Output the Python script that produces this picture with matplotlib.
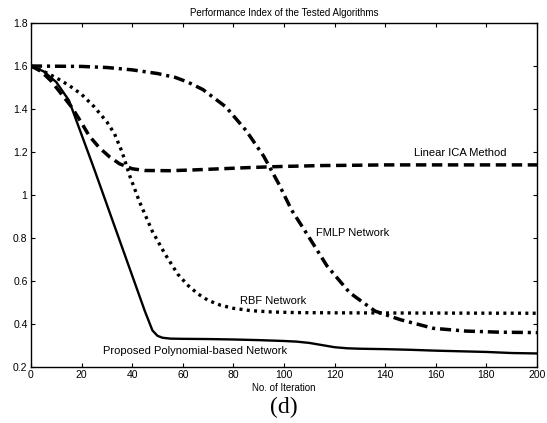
import matplotlib
matplotlib.use("Agg")
import matplotlib.pyplot as plt

# Proposed Polynomial-based Network (solid)
poly_x = [0, 5, 10, 15, 20, 25, 30, 35, 40, 45, 48, 50, 52, 55, 60, 70, 80, 90, 100, 105,
          110, 115, 120, 125, 130, 140, 150, 160, 170, 180, 190, 200]
poly_y = [1.6, 1.575, 1.525, 1.44, 1.28, 1.12, 0.955, 0.79, 0.625, 0.46, 0.37, 0.345, 0.336,
          0.332, 0.331, 0.33, 0.328, 0.325, 0.321, 0.318, 0.312, 0.302, 0.292, 0.287, 0.285,
          0.283, 0.28, 0.276, 0.273, 0.27, 0.265, 0.263]

# Linear ICA Method (dashed)
ica_x = [0, 4, 8, 12, 16, 20, 23, 27, 31, 35, 40, 45, 55, 65, 75, 85, 92, 100, 108, 115,
         126, 140, 160, 200]
ica_y = [1.6, 1.575, 1.53, 1.47, 1.41, 1.335, 1.275, 1.22, 1.178, 1.145, 1.122, 1.114, 1.113,
         1.117, 1.122, 1.127, 1.13, 1.133, 1.135, 1.137, 1.138, 1.14, 1.14, 1.14]

# RBF Network (dotted)
rbf_x = [0, 5, 10, 15, 20, 25, 30, 33, 36, 39, 43, 48, 53, 58, 62, 66, 70, 75, 80, 87, 95,
         105, 120, 150, 200]
rbf_y = [1.6, 1.575, 1.545, 1.51, 1.468, 1.41, 1.34, 1.285, 1.2, 1.09, 0.965, 0.83, 0.725,
         0.632, 0.58, 0.54, 0.51, 0.487, 0.473, 0.462, 0.456, 0.453, 0.452, 0.451, 0.45]

# FMLP Network (dash-dot)
fmlp_x = [0, 20, 30, 40, 50, 57, 62, 68, 77, 85, 92, 98, 103, 109, 117, 126, 136, 146, 159,
          172, 185, 200]
fmlp_y = [1.6, 1.598, 1.593, 1.582, 1.565, 1.547, 1.525, 1.49, 1.41, 1.30, 1.18, 1.05, 0.93,
          0.82, 0.67, 0.545, 0.46, 0.42, 0.38, 0.367, 0.362, 0.36]

x_ticks = [0, 20, 40, 60, 80, 100, 120, 140, 160, 180, 200]
y_ticks = [0.2, 0.4, 0.6, 0.8, 1.0, 1.2, 1.4, 1.6, 1.8]
y_tick_labels = ["0.2", "0.4", "0.6", "0.8", "1", "1.2", "1.4", "1.6", "1.8"]

plt.rcParams["font.family"] = ["Liberation Sans", "DejaVu Sans"]

fig = plt.figure(figsize=(5.47, 4.23), dpi=100)
ax = fig.add_axes([31 / 547, 56 / 423, 506 / 547, 344 / 423])

ax.plot(poly_x, poly_y, color="black", lw=1.7, linestyle="-")
ax.plot(ica_x, ica_y, color="black", lw=2.5, linestyle=(0, (3, 1.6)), dash_capstyle="butt")
ax.plot(rbf_x, rbf_y, color="black", lw=2.4, linestyle=(0, (0.9, 1.3)), dash_capstyle="butt")
ax.plot(fmlp_x, fmlp_y, color="black", lw=2.5, linestyle=(0, (3.2, 1.4, 0.9, 1.4)),
        dash_capstyle="butt")

ax.set_xlim(0, 200)
ax.set_ylim(0.2, 1.8)
ax.set_xticks(x_ticks)
ax.set_yticks(y_ticks)
ax.set_yticklabels(y_tick_labels)
ax.tick_params(direction="in", top=True, right=True, length=3, width=0.8, labelsize=7.5, pad=2.5)
for s in ax.spines.values():
    s.set_linewidth(1.0)

ax.set_title("Performance Index of the Tested Algorithms", fontsize=7, pad=5)
ax.set_xlabel("No. of Iteration", fontsize=7, labelpad=2)

ax.text(151.4, 1.194, "Linear ICA Method", fontsize=8, va="center", ha="left")
ax.text(112.8, 0.822, "FMLP Network", fontsize=8, va="center", ha="left")
ax.text(82.8, 0.508, "RBF Network", fontsize=8, va="center", ha="left")
ax.text(28.4, 0.274, "Proposed Polynomial-based Network", fontsize=8, va="center", ha="left")

fig.text(284 / 547, 1 - 407 / 423, "(d)", fontsize=17, family="Liberation Serif",
         ha="center", va="center")

fig.savefig("out.png", dpi=100)
